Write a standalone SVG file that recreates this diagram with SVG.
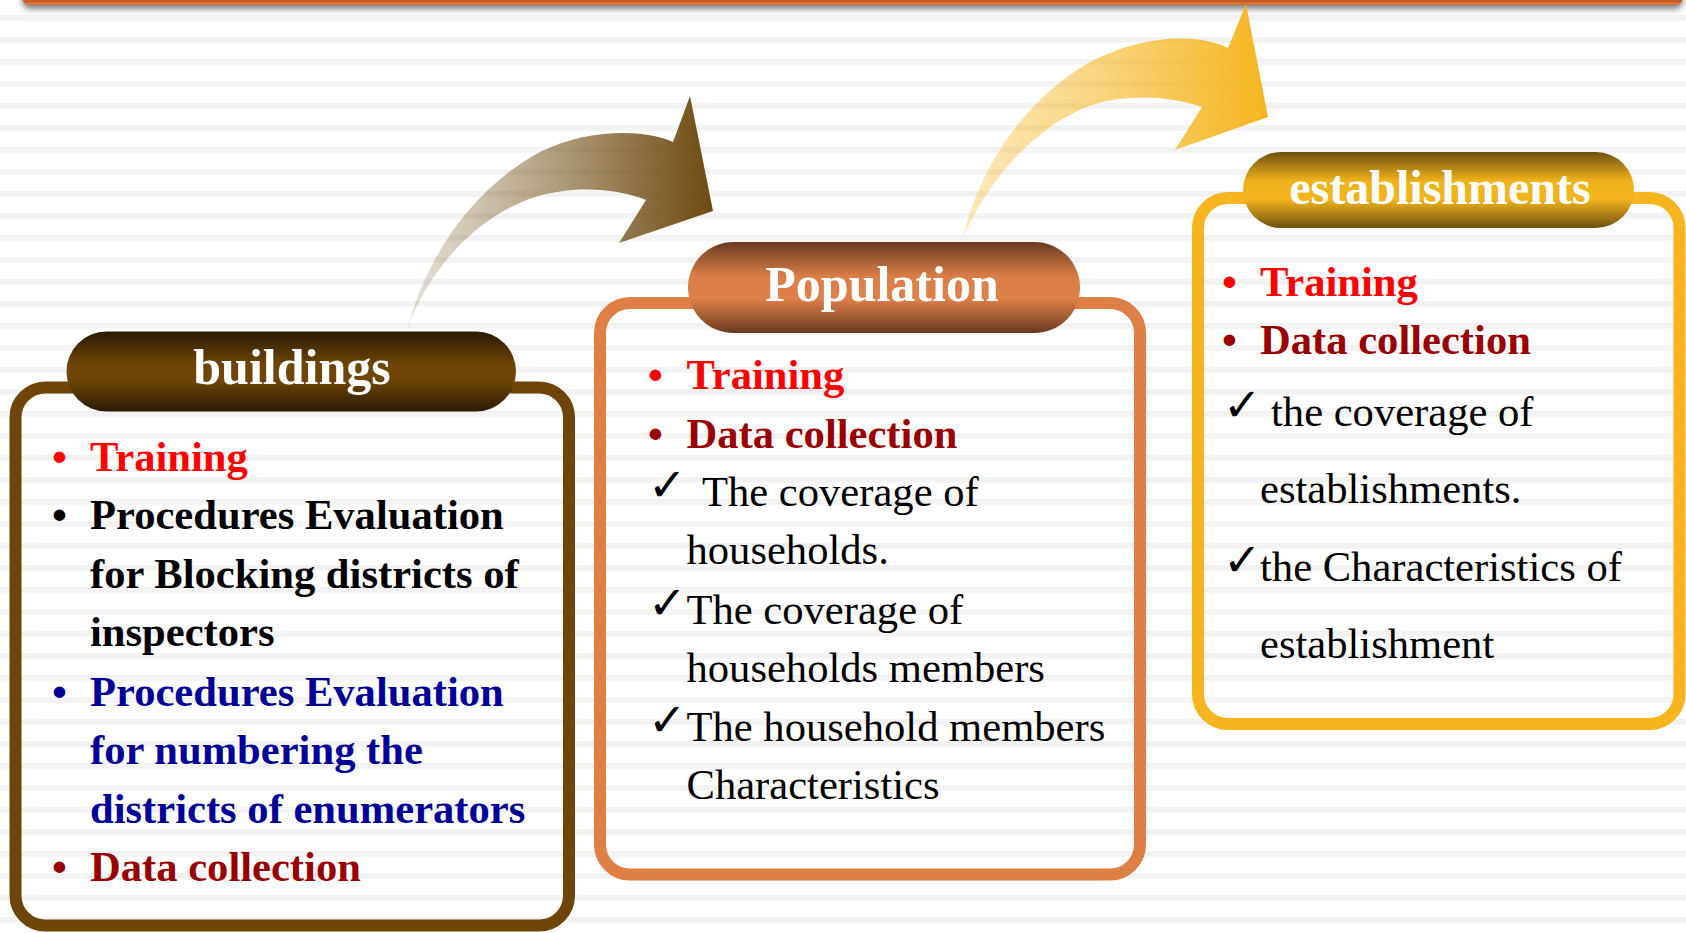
<svg xmlns="http://www.w3.org/2000/svg" width="1686" height="933" viewBox="0 0 1686 933">
  <style>
    .t { font-family: "Liberation Serif", "Times New Roman", serif; font-size: 42.6px; }
    .b { font-weight: bold; }
    .head { font-family: "Liberation Serif", "Times New Roman", serif; font-weight: bold; fill: #FFFFFF; text-anchor: middle; }
    .chk { font-family: "DejaVu Sans", sans-serif; font-size: 46px; font-weight: bold; fill: #000000; }
    .red { fill: #FF0000; }
    .dred { fill: #990000; }
    .blue { fill: #000099; }
    .blk { fill: #000000; }
    .frame { fill: none; stroke-width: 12; }
  </style>
  <defs>
    <pattern id="stripes" x="0" y="15" width="1686" height="22" patternUnits="userSpaceOnUse">
      <rect x="0" y="0" width="1686" height="5.7" fill="#F2F2F2"/>
    </pattern>
    <filter id="barShadow" x="-5%" y="-100%" width="110%" height="400%">
      <feDropShadow dx="0" dy="4" stdDeviation="3" flood-color="#555555" flood-opacity="0.75"/>
    </filter>
    <linearGradient id="gBuild" x1="0" y1="0" x2="0" y2="1">
      <stop offset="0" stop-color="#2A1903"/>
      <stop offset="0.4" stop-color="#6C4406"/>
      <stop offset="0.6" stop-color="#704607"/>
      <stop offset="1" stop-color="#2A1A04"/>
    </linearGradient>
    <linearGradient id="gPop" x1="0" y1="0" x2="0" y2="1">
      <stop offset="0" stop-color="#6A3A20"/>
      <stop offset="0.38" stop-color="#DA7E47"/>
      <stop offset="0.62" stop-color="#DE8049"/>
      <stop offset="1" stop-color="#6A3A20"/>
    </linearGradient>
    <linearGradient id="gEst" x1="0" y1="0" x2="0" y2="1">
      <stop offset="0" stop-color="#6F4F0F"/>
      <stop offset="0.38" stop-color="#EFB21B"/>
      <stop offset="0.62" stop-color="#F3B41C"/>
      <stop offset="1" stop-color="#6F4F0F"/>
    </linearGradient>
    <linearGradient id="gArrowBrown" gradientUnits="userSpaceOnUse" x1="406" y1="0" x2="713" y2="0">
      <stop offset="0" stop-color="#6E4A10" stop-opacity="0.15"/>
      <stop offset="0.5" stop-color="#6E4A10" stop-opacity="0.55"/>
      <stop offset="1" stop-color="#6E4A10" stop-opacity="1"/>
    </linearGradient>
    <linearGradient id="gArrowGold" gradientUnits="userSpaceOnUse" x1="962" y1="0" x2="1268" y2="0">
      <stop offset="0" stop-color="#F5B51E" stop-opacity="0.3"/>
      <stop offset="0.5" stop-color="#F5B51E" stop-opacity="0.6"/>
      <stop offset="1" stop-color="#F5B51E" stop-opacity="1"/>
    </linearGradient>
  </defs>

  <!-- page background with faint horizontal ruling -->
  <rect x="0" y="0" width="1686" height="933" fill="#FFFFFF"/>
  <rect x="0" y="0" width="1686" height="933" fill="url(#stripes)"/>

  <!-- title bar edge at the top -->
  <g id="top-bar">
    <rect x="22" y="-12" width="1661" height="17" rx="8" fill="#C55C26" filter="url(#barShadow)"/>
    <rect x="26" y="2.5" width="1653" height="2" fill="#E07A3E"/>
  </g>

  <!-- curved transition arrows -->
  <g id="connectors">
    <path d="M407,330 C425,260 470,190 540,152 C585,130 640,128 673,142 L690,96 L713,211 L619,243 L646,200 C615,187 570,186 535,197 C480,215 430,265 407,330 Z" fill="url(#gArrowBrown)"/>
    <path d="M962,240 C980,165 1025,100 1090,62 C1140,36 1195,32 1228,48 L1246,4 L1268,117 L1175,150 L1202,107 C1170,96 1130,94 1095,104 C1040,122 990,175 962,240 Z" fill="url(#gArrowGold)"/>
  </g>

  <!-- stage 1: buildings -->
  <g id="node-buildings">
    <rect class="frame" x="15.5" y="387.5" width="553.5" height="538" rx="30" stroke="#6E4507"/>
    <rect x="66.5" y="331.5" width="449.5" height="80" rx="40" fill="url(#gBuild)"/>
    <text class="head" x="292" y="384" font-size="50">buildings</text>
    <g class="t b">
      <text class="red" x="52" y="471">•</text>
      <text class="red" x="90" y="471">Training</text>
      <text class="blk" x="52" y="529">•</text>
      <text class="blk" x="90" y="529">Procedures Evaluation</text>
      <text class="blk" x="90" y="588">for Blocking districts of</text>
      <text class="blk" x="90" y="646">inspectors</text>
      <text class="blue" x="52" y="706">•</text>
      <text class="blue" x="90" y="706">Procedures Evaluation</text>
      <text class="blue" x="90" y="764">for numbering the</text>
      <text class="blue" x="90" y="823">districts of enumerators</text>
      <text class="dred" x="52" y="881">•</text>
      <text class="dred" x="90" y="881">Data collection</text>
    </g>
  </g>

  <!-- stage 2: population -->
  <g id="node-population">
    <rect class="frame" x="600" y="303" width="540" height="571.5" rx="30" stroke="#DE7F46"/>
    <rect x="688" y="242" width="392" height="91" rx="45.5" fill="url(#gPop)"/>
    <text class="head" x="882" y="301" font-size="50">Population</text>
    <g class="t b">
      <text class="red" x="648" y="389">•</text>
      <text class="red" x="686.5" y="389">Training</text>
      <text class="dred" x="648" y="448">•</text>
      <text class="dred" x="686.5" y="448">Data collection</text>
    </g>
    <text class="chk" x="648" y="501">✓</text>
    <text class="chk" x="648" y="619">✓</text>
    <text class="chk" x="648" y="736">✓</text>
    <g class="t blk">
      <text x="702" y="506">The coverage of</text>
      <text x="686.5" y="564">households.</text>
      <text x="686.5" y="624">The coverage of</text>
      <text x="686.5" y="682">households members</text>
      <text x="686.5" y="741">The household members</text>
      <text x="686.5" y="799">Characteristics</text>
    </g>
  </g>

  <!-- stage 3: establishments -->
  <g id="node-establishments">
    <rect class="frame" x="1198" y="198" width="481.5" height="526" rx="30" stroke="#F6B51E"/>
    <rect x="1243" y="152" width="391" height="76" rx="38" fill="url(#gEst)"/>
    <text class="head" x="1440" y="204" font-size="48">establishments</text>
    <g class="t b">
      <text class="red" x="1222" y="296">•</text>
      <text class="red" x="1260" y="296">Training</text>
      <text class="dred" x="1222" y="354">•</text>
      <text class="dred" x="1260" y="354">Data collection</text>
    </g>
    <text class="chk" x="1223" y="421">✓</text>
    <text class="chk" x="1223" y="576">✓</text>
    <g class="t blk">
      <text x="1271" y="426">the coverage of</text>
      <text x="1260" y="503">establishments.</text>
      <text x="1260" y="581">the Characteristics of</text>
      <text x="1260" y="658">establishment</text>
    </g>
  </g>
</svg>
